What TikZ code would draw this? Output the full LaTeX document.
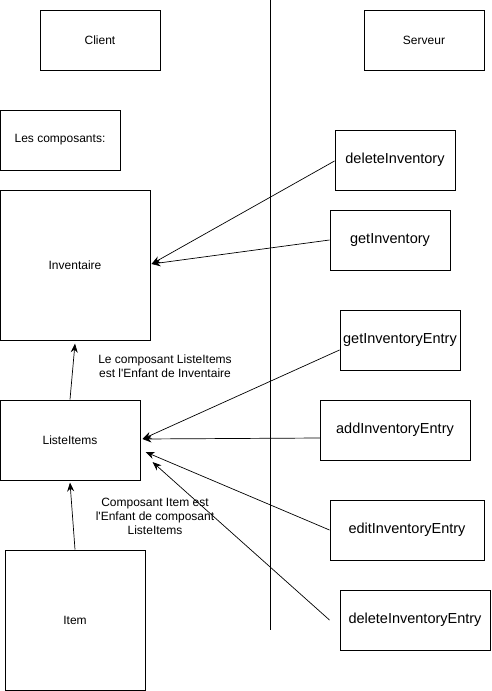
\documentclass[tikz,border=0pt]{standalone}
\usepackage{fontspec}
\setmainfont{Liberation Sans}[Ligatures=TeXOff]
\usetikzlibrary{arrows.meta}
\begin{document}
\begin{tikzpicture}[x=1pt,y=-1pt,
  box/.style={draw,line width=1pt,inner sep=0pt,font=\fontsize{12}{14}\selectfont},
  fbox/.style={draw,line width=1pt,inner sep=0pt,font=\fontsize{14.5}{17}\selectfont},
  arr/.style={line width=0.7pt,-{Stealth[length=9pt,width=7pt]}},
  lbl/.style={align=center,font=\fontsize{12}{14}\selectfont,inner sep=0pt}]
\useasboundingbox[fill=white] (0,0) rectangle (491,691);
% boxes
\node[box,minimum width=120pt,minimum height=60pt] (client) at (100,40) {Client};
\node[box,minimum width=120pt,minimum height=60pt] (serveur) at (424,40) {Serveur};
\node[box,minimum width=120pt,minimum height=60pt] (comp) at (60,140) {Les composants:};
\node[box,minimum width=150pt,minimum height=150pt] (inv) at (75,265) {Inventaire};
\node[box,minimum width=140pt,minimum height=80pt] (liste) at (70,440) {ListeItems};
\node[box,minimum width=140pt,minimum height=140pt] (item) at (75,620) {Item};
\node[fbox,minimum width=120pt,minimum height=60pt] (delinv) at (395,160) {deleteInventory};
\node[fbox,minimum width=120pt,minimum height=60pt] (getinv) at (390,240) {getInventory};
\node[fbox,minimum width=120pt,minimum height=60pt] (getentry) at (400,340) {getInventoryEntry};
\node[fbox,minimum width=150pt,minimum height=60pt] (addentry) at (395,430) {addInventoryEntry};
\node[fbox,minimum width=154pt,minimum height=60pt] (editentry) at (407,530) {editInventoryEntry};
\node[fbox,minimum width=150pt,minimum height=60pt] (delentry) at (415,620) {deleteInventoryEntry};
% separator
\coordinate (septop) at (270,0);
\coordinate (sepbot) at (270,630);
\draw[line width=1pt] (septop) -- (sepbot);
% labels
\node[lbl] (lab1) at (165,366) {Le composant ListeItems\\est l'Enfant de Inventaire};
\node[lbl] (lab2) at (155,516) {Composant Item est\\l'Enfant de composant\\ListeItems};
% arrows
\draw[arr] (liste.north) -- ([yshift=-3pt]inv.south);
\draw[arr] (item.north) -- ([yshift=-2pt]liste.south);
\draw[arr] ([yshift=-1pt]delinv.west) -- ([xshift=1pt,yshift=1pt]inv.east);
\draw[arr] (getinv.west) -- ([xshift=1pt,yshift=1pt]inv.east);
\draw[arr] ([yshift=-10pt]getentry.west) -- ([xshift=2pt,yshift=1pt]liste.east);
\draw[arr] ([xshift=1pt,yshift=-8pt]addentry.west) -- ([xshift=2pt,yshift=1pt]liste.east);
\draw[arr] (editentry.west) -- ([xshift=5pt,yshift=-12pt]liste.east);
\draw[arr] ([xshift=-10pt]delentry.west) -- ([xshift=12pt,yshift=-22pt]liste.east);
\end{tikzpicture}
\end{document}
